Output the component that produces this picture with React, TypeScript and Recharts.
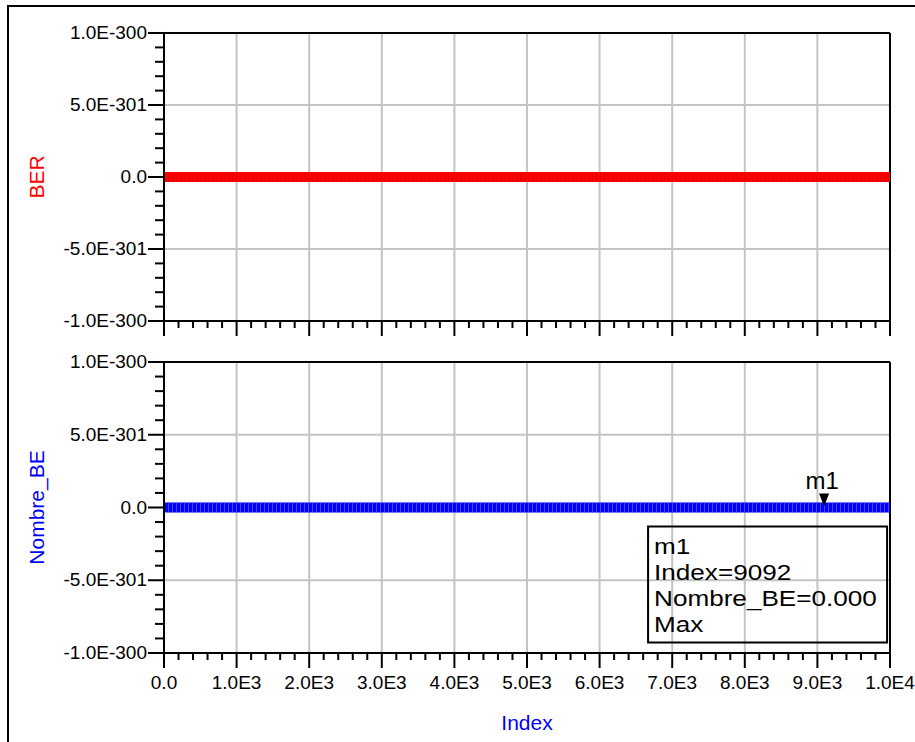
import React from 'react'
import { LineChart, Line, XAxis, YAxis, ReferenceLine, ReferenceDot, Label } from 'recharts'

// sweep index and the two traces (all samples read as zero)
const indexPoints = [0, 1000, 2000, 3000, 4000, 5000, 6000, 7000, 8000, 9000, 10000]
const berValues = [0, 0, 0, 0, 0, 0, 0, 0, 0, 0, 0]
const nombreBEValues = [0, 0, 0, 0, 0, 0, 0, 0, 0, 0, 0]

const xMajorTicks = [0, 1000, 2000, 3000, 4000, 5000, 6000, 7000, 8000, 9000, 10000]
const xTickLabels = ['0.0', '1.0E3', '2.0E3', '3.0E3', '4.0E3', '5.0E3', '6.0E3', '7.0E3', '8.0E3', '9.0E3', '1.0E4']
const yMajorTicks = [-1e-300, -5e-301, 0, 5e-301, 1e-300]
const yTickLabels = ['-1.0E-300', '-5.0E-301', '0.0', '5.0E-301', '1.0E-300']

const marker = { name: 'm1', index: 9092, value: 0 }
const readoutLines = ['m1', 'Index=9092', 'Nombre_BE=0.000', 'Max']

const data = indexPoints.map((index, i) => ({
  index,
  ber: berValues[i],
  nombreBE: nombreBEValues[i],
}))

// majors plus 4 minor subdivisions between each pair
const withMinors = (majors: number[], parts: number) => {
  const out: number[] = []
  majors.forEach((m, i) => {
    out.push(m)
    if (i < majors.length - 1) {
      const step = (majors[i + 1] - m) / parts
      for (let j = 1; j < parts; j++) out.push(m + step * j)
    }
  })
  return out
}

const xTicks = withMinors(xMajorTicks, 5)
const yTicks = withMinors(yMajorTicks, 5)

const GRID = '#c4c4c4'
const FONT = '"Liberation Sans", Arial, sans-serif'

const YTick = (props: any) => {
  const { x, y, payload } = props
  const i = yMajorTicks.indexOf(payload.value)
  const major = i >= 0
  return (
    <g>
      <line x1={x - (major ? 16 : 9)} x2={x} y1={y} y2={y} stroke="#000" strokeWidth={2} />
      {major && (
        <text x={x - 17} y={y + 6} textAnchor="end" fontSize={19} fill="#000">
          {yTickLabels[i]}
        </text>
      )}
    </g>
  )
}

const makeXTick = (showLabels: boolean) => (props: any) => {
  const { x, y, payload } = props
  const i = xMajorTicks.indexOf(payload.value)
  const major = i >= 0
  return (
    <g>
      <line x1={x} x2={x} y1={y} y2={y + (major ? 15 : 7)} stroke="#000" strokeWidth={2} />
      {major && showLabels && (
        <text x={x} y={y + 36} textAnchor="middle" fontSize={19} fill="#000">
          {xTickLabels[i]}
        </text>
      )}
    </g>
  )
}

const yTitle = (text: string, color: string) => (props: any) => {
  const { viewBox } = props
  const cx = viewBox.x - 28
  const cy = viewBox.y + viewBox.height / 2
  return (
    <text
      x={cx}
      y={cy}
      transform={`rotate(-90 ${cx} ${cy})`}
      textAnchor="middle"
      dominantBaseline="central"
      fontSize={21}
      fill={color}
    >
      {text}
    </text>
  )
}

const xTitle = (props: any) => {
  const { viewBox } = props
  return (
    <text x={viewBox.x + viewBox.width / 2} y={viewBox.y + 77} textAnchor="middle" fontSize={21} fill="#0000ff">
      Index
    </text>
  )
}

const MarkerShape = (props: any) => {
  const { cx, cy } = props
  return (
    <g>
      <path d={`M${cx - 5},${cy - 14} L${cx + 5},${cy - 14} L${cx},${cy - 1} Z`} fill="#000" />
      <text x={cx - 2} y={cy - 19} textAnchor="middle" fontSize={24} fill="#000">
        {marker.name}
      </text>
      <rect x={cx - 176} y={cy + 19} width={239} height={116} fill="none" stroke="#000" strokeWidth={2} />
      {/* readout text is drawn a bit wide, like the ADS marker box */}
      <g transform={`translate(${cx - 170},${cy + 46}) scale(1.16,1)`}>
        {readoutLines.map((t, i) => (
          <text key={t} x={0} y={i * 26.3} fontSize={22.5} fill="#000">
            {t}
          </text>
        ))}
      </g>
    </g>
  )
}

function Panel({
  dataKey,
  color,
  stripe,
  title,
  height,
  margin,
  xAxisHeight,
  showXLabels,
  children,
}: {
  dataKey: string
  color: string
  stripe: string
  title: string
  height: number
  margin: { top: number; right: number; bottom: number; left: number }
  xAxisHeight: number
  showXLabels: boolean
  children?: React.ReactNode
}) {
  return (
    <LineChart width={915} height={height} data={data} margin={margin}>
      <XAxis
        type="number"
        dataKey="index"
        domain={[0, 10000]}
        ticks={xTicks}
        interval={0}
        tickSize={0}
        tickMargin={0}
        tickLine={false}
        axisLine={{ stroke: '#000', strokeWidth: 2 }}
        tick={makeXTick(showXLabels)}
        height={xAxisHeight}
        allowDataOverflow
      >
        {showXLabels && <Label content={xTitle} />}
      </XAxis>
      <YAxis
        type="number"
        domain={[-1e-300, 1e-300]}
        ticks={yTicks}
        interval={0}
        tickSize={0}
        tickMargin={0}
        tickLine={false}
        axisLine={{ stroke: '#000', strokeWidth: 2 }}
        tick={YTick}
        width={100}
        allowDataOverflow
      >
        <Label content={yTitle(title, color)} />
      </YAxis>
      {xMajorTicks.slice(1, -1).map((v) => (
        <ReferenceLine key={'gx' + v} x={v} stroke={GRID} strokeWidth={2} />
      ))}
      {yMajorTicks.slice(1, -1).map((v) => (
        <ReferenceLine key={'gy' + v} y={v} stroke={GRID} strokeWidth={2} />
      ))}
      <ReferenceLine y={1e-300} stroke="#000" strokeWidth={2} />
      <ReferenceLine x={10000} stroke="#000" strokeWidth={2} />
      <Line type="linear" dataKey={dataKey} stroke={color} strokeWidth={10} dot={false} isAnimationActive={false} />
      <Line
        type="linear"
        dataKey={dataKey}
        stroke={stripe}
        strokeWidth={10}
        strokeDasharray="1 3"
        dot={false}
        isAnimationActive={false}
      />
      {children}
    </LineChart>
  )
}

export default function App() {
  return (
    <div
      style={{
        position: 'absolute',
        left: 0,
        top: 0,
        width: 915,
        height: 742,
        background: '#fff',
        fontFamily: FONT,
        overflow: 'hidden',
      }}
    >
      <div
        style={{
          position: 'absolute',
          left: 7,
          top: 5,
          width: 920,
          height: 760,
          borderLeft: '2px solid #000',
          borderTop: '2px solid #000',
        }}
      />
      <div style={{ position: 'absolute', left: 0, top: 0 }}>
        <Panel
          dataKey="ber"
          color="#ff0000"
          stripe="#dd0000"
          title="BER"
          height={345}
          margin={{ top: 33, right: 25, bottom: 0, left: 64 }}
          xAxisHeight={24}
          showXLabels={false}
        />
      </div>
      <div style={{ position: 'absolute', left: 0, top: 345 }}>
        <Panel
          dataKey="nombreBE"
          color="#0000ff"
          stripe="#4444ff"
          title="Nombre_BE"
          height={397}
          margin={{ top: 17, right: 25, bottom: 39, left: 64 }}
          xAxisHeight={50}
          showXLabels
        >
          <ReferenceDot x={marker.index} y={marker.value} r={0} shape={MarkerShape} ifOverflow="visible" />
        </Panel>
      </div>
    </div>
  )
}
